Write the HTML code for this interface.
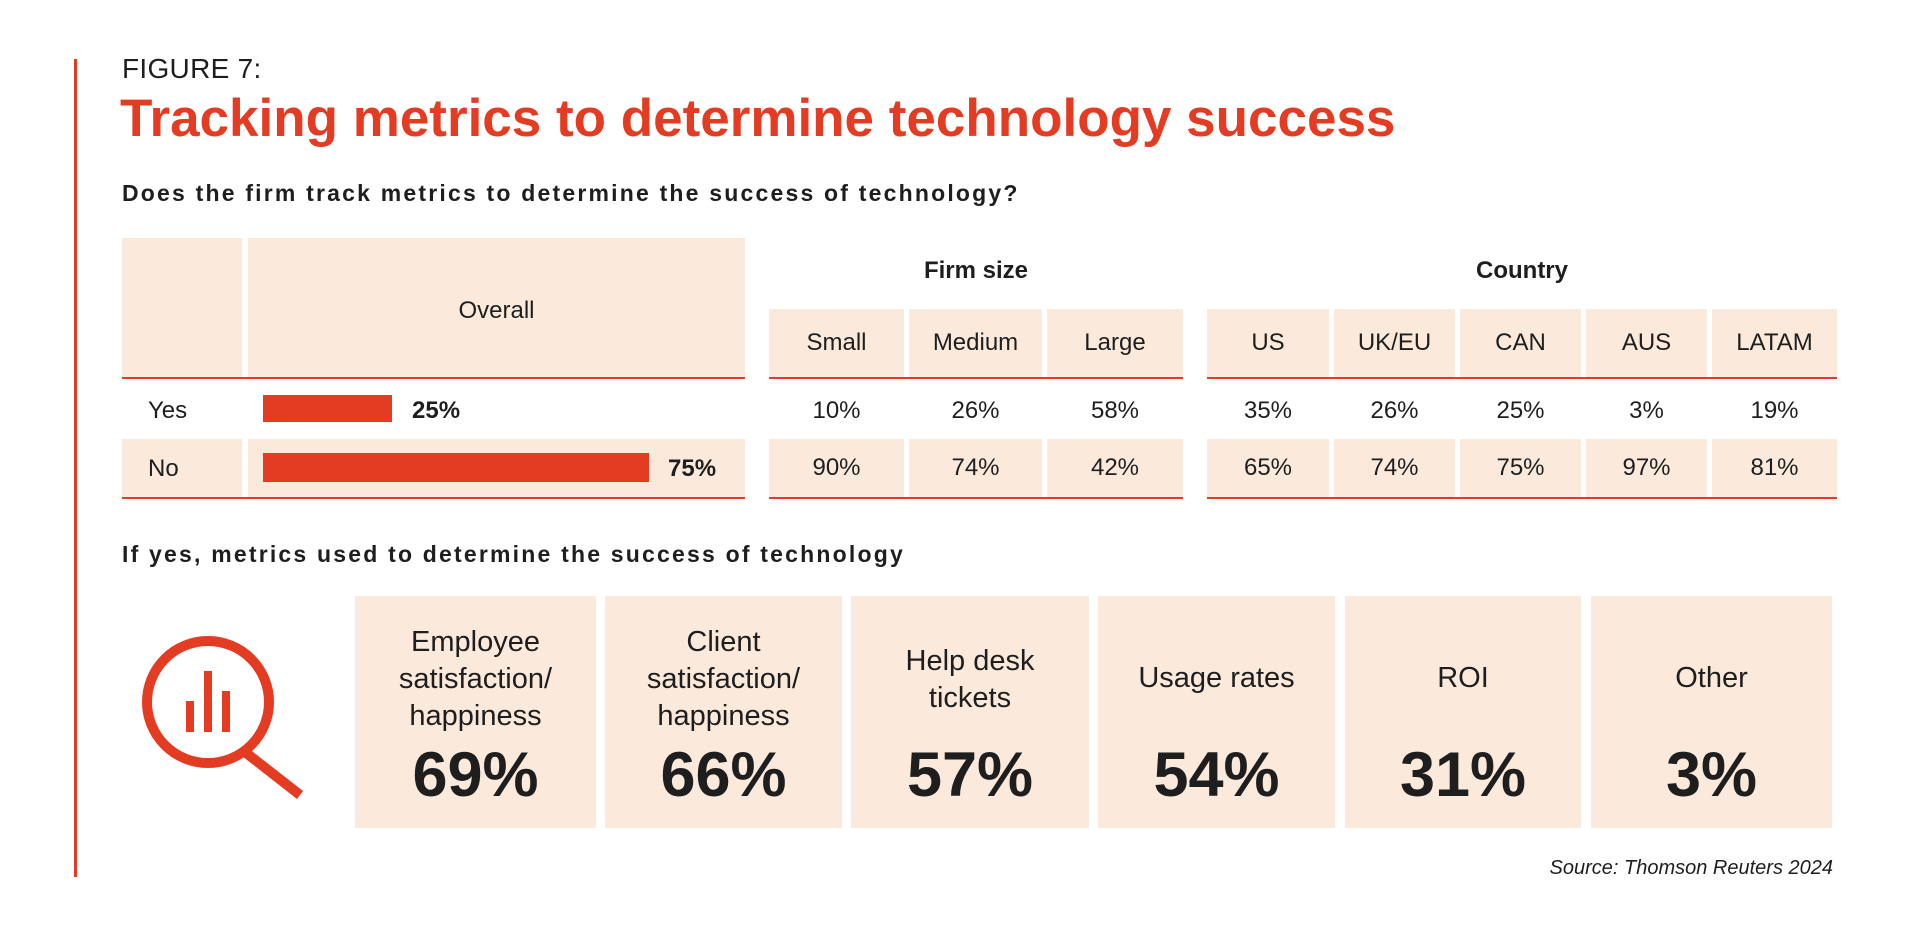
<!DOCTYPE html>
<html><head><meta charset="utf-8"><style>
*{margin:0;padding:0;box-sizing:border-box}
body{width:1920px;height:930px;background:#fff;position:relative;overflow:hidden;font-family:"Liberation Sans",sans-serif;color:#1e1e1e}
.a{position:absolute}
.bg{position:absolute;background:#fbeadb}
.c{position:absolute;display:flex;align-items:center;justify-content:center;text-align:center}
.rl{position:absolute;height:2px;background:#e33c23}
.t{font-size:24px}
</style></head><body>
<div class="a" style="left:74px;top:59px;width:3px;height:818px;background:#e33c23"></div>
<div class="a" style="left:122px;top:53px;font-size:28px;letter-spacing:0.3px">FIGURE 7:</div>
<div class="a" style="left:120px;top:88px;font-size:53px;color:#e33c23;font-weight:bold;letter-spacing:0px">Tracking metrics to determine technology success</div>
<div class="a" style="left:122px;top:180px;font-size:23px;font-weight:bold;letter-spacing:2.2px">Does the firm track metrics to determine the success of technology?</div>

<div class="bg" style="left:122px;top:238px;width:120px;height:139px"></div>
<div class="bg" style="left:248px;top:238px;width:497px;height:139px"></div>
<div class="c t" style="left:248px;top:238px;width:497px;height:145px">Overall</div>
<div class="c t" style="left:769px;top:256px;width:414px;height:30px;font-weight:bold">Firm size</div>
<div class="c t" style="left:1207px;top:256px;width:630px;height:30px;font-weight:bold">Country</div>

<div class="bg" style="left:769px;top:309px;width:135px;height:68px"></div>
<div class="bg" style="left:909px;top:309px;width:133px;height:68px"></div>
<div class="bg" style="left:1047px;top:309px;width:136px;height:68px"></div>
<div class="c t" style="left:769px;top:309px;width:135px;height:68px">Small</div>
<div class="c t" style="left:909px;top:309px;width:133px;height:68px">Medium</div>
<div class="c t" style="left:1047px;top:309px;width:136px;height:68px">Large</div>

<div class="bg" style="left:1207px;top:309px;width:122px;height:68px"></div>
<div class="bg" style="left:1334px;top:309px;width:121px;height:68px"></div>
<div class="bg" style="left:1460px;top:309px;width:121px;height:68px"></div>
<div class="bg" style="left:1586px;top:309px;width:121px;height:68px"></div>
<div class="bg" style="left:1712px;top:309px;width:125px;height:68px"></div>
<div class="c t" style="left:1207px;top:309px;width:122px;height:68px">US</div>
<div class="c t" style="left:1334px;top:309px;width:121px;height:68px">UK/EU</div>
<div class="c t" style="left:1460px;top:309px;width:121px;height:68px">CAN</div>
<div class="c t" style="left:1586px;top:309px;width:121px;height:68px">AUS</div>
<div class="c t" style="left:1712px;top:309px;width:125px;height:68px">LATAM</div>

<div class="rl" style="left:122px;top:377px;width:623px"></div>
<div class="rl" style="left:769px;top:377px;width:414px"></div>
<div class="rl" style="left:1207px;top:377px;width:630px"></div>

<div class="a t" style="left:148px;top:397px">Yes</div>
<div class="a" style="left:263px;top:395px;width:129px;height:27px;background:#e33c23"></div>
<div class="a t" style="left:412px;top:397px;font-weight:bold">25%</div>
<div class="c t" style="left:769px;top:383px;width:135px;height:55px">10%</div>
<div class="c t" style="left:909px;top:383px;width:133px;height:55px">26%</div>
<div class="c t" style="left:1047px;top:383px;width:136px;height:55px">58%</div>
<div class="c t" style="left:1207px;top:383px;width:122px;height:55px">35%</div>
<div class="c t" style="left:1334px;top:383px;width:121px;height:55px">26%</div>
<div class="c t" style="left:1460px;top:383px;width:121px;height:55px">25%</div>
<div class="c t" style="left:1586px;top:383px;width:121px;height:55px">3%</div>
<div class="c t" style="left:1712px;top:383px;width:125px;height:55px">19%</div>

<div class="bg" style="left:122px;top:439px;width:120px;height:58px"></div>
<div class="bg" style="left:248px;top:439px;width:497px;height:58px"></div>
<div class="bg" style="left:769px;top:439px;width:135px;height:58px"></div>
<div class="bg" style="left:909px;top:439px;width:133px;height:58px"></div>
<div class="bg" style="left:1047px;top:439px;width:136px;height:58px"></div>
<div class="bg" style="left:1207px;top:439px;width:122px;height:58px"></div>
<div class="bg" style="left:1334px;top:439px;width:121px;height:58px"></div>
<div class="bg" style="left:1460px;top:439px;width:121px;height:58px"></div>
<div class="bg" style="left:1586px;top:439px;width:121px;height:58px"></div>
<div class="bg" style="left:1712px;top:439px;width:125px;height:58px"></div>
<div class="a t" style="left:148px;top:455px">No</div>
<div class="a" style="left:263px;top:453px;width:386px;height:29px;background:#e33c23"></div>
<div class="a t" style="left:668px;top:455px;font-weight:bold">75%</div>
<div class="c t" style="left:769px;top:439px;width:135px;height:58px">90%</div>
<div class="c t" style="left:909px;top:439px;width:133px;height:58px">74%</div>
<div class="c t" style="left:1047px;top:439px;width:136px;height:58px">42%</div>
<div class="c t" style="left:1207px;top:439px;width:122px;height:58px">65%</div>
<div class="c t" style="left:1334px;top:439px;width:121px;height:58px">74%</div>
<div class="c t" style="left:1460px;top:439px;width:121px;height:58px">75%</div>
<div class="c t" style="left:1586px;top:439px;width:121px;height:58px">97%</div>
<div class="c t" style="left:1712px;top:439px;width:125px;height:58px">81%</div>
<div class="rl" style="left:122px;top:497px;width:623px"></div>
<div class="rl" style="left:769px;top:497px;width:414px"></div>
<div class="rl" style="left:1207px;top:497px;width:630px"></div>

<div class="a" style="left:122px;top:541px;font-size:23px;font-weight:bold;letter-spacing:2.2px">If yes, metrics used to determine the success of technology</div>

<svg class="a" style="left:130px;top:620px" width="200" height="200">
<circle cx="78" cy="82" r="61" fill="none" stroke="#e33c23" stroke-width="10"/>
<line x1="115" y1="132" x2="170" y2="175" stroke="#e33c23" stroke-width="10"/>
<rect x="56" y="81" width="8" height="31" fill="#e33c23"/>
<rect x="74" y="51" width="8" height="61" fill="#e33c23"/>
<rect x="92" y="71" width="8" height="41" fill="#e33c23"/>
</svg>

<div class="bg" style="left:355px;top:596px;width:241px;height:232px"></div>
<div class="bg" style="left:605px;top:596px;width:237px;height:232px"></div>
<div class="bg" style="left:851px;top:596px;width:238px;height:232px"></div>
<div class="bg" style="left:1098px;top:596px;width:237px;height:232px"></div>
<div class="bg" style="left:1345px;top:596px;width:236px;height:232px"></div>
<div class="bg" style="left:1591px;top:596px;width:241px;height:232px"></div>

<div class="c" style="left:355px;top:624px;width:241px;height:110px;font-size:29px;line-height:37px">Employee<br>satisfaction/<br>happiness</div>
<div class="c" style="left:605px;top:624px;width:237px;height:110px;font-size:29px;line-height:37px">Client<br>satisfaction/<br>happiness</div>
<div class="c" style="left:851px;top:643px;width:238px;height:74px;font-size:29px;line-height:37px">Help desk<br>tickets</div>
<div class="c" style="left:1098px;top:643px;width:237px;height:70px;font-size:29px">Usage rates</div>
<div class="c" style="left:1345px;top:643px;width:236px;height:70px;font-size:29px">ROI</div>
<div class="c" style="left:1591px;top:643px;width:241px;height:70px;font-size:29px">Other</div>

<div class="c" style="left:355px;top:740px;width:241px;height:70px;font-size:63px;font-weight:bold">69%</div>
<div class="c" style="left:605px;top:740px;width:237px;height:70px;font-size:63px;font-weight:bold">66%</div>
<div class="c" style="left:851px;top:740px;width:238px;height:70px;font-size:63px;font-weight:bold">57%</div>
<div class="c" style="left:1098px;top:740px;width:237px;height:70px;font-size:63px;font-weight:bold">54%</div>
<div class="c" style="left:1345px;top:740px;width:236px;height:70px;font-size:63px;font-weight:bold">31%</div>
<div class="c" style="left:1591px;top:740px;width:241px;height:70px;font-size:63px;font-weight:bold">3%</div>

<div class="a" style="right:87px;top:857px;font-size:20px;font-style:italic">Source: Thomson Reuters 2024</div>
</body></html>
